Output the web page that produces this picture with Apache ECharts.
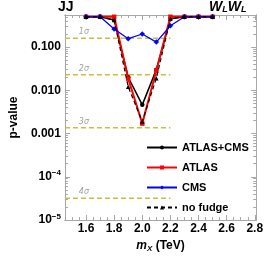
<!DOCTYPE html>
<html><head><meta charset="utf-8">
<script src="https://cdn.jsdelivr.net/npm/echarts@6/dist/echarts.min.js"></script>
<style>html,body{margin:0;padding:0;background:#fff}#c{width:266px;height:258px}</style>
</head><body><div id="c"></div>
<script>
const masses = [1.6, 1.7, 1.8, 1.9, 2.0, 2.1, 2.2, 2.3, 2.4, 2.5];
const combined = [0.5, 0.5, 0.42, 0.020, 0.0046, 0.030, 0.45, 0.5, 0.5, 0.5];
const atlas = [0.5, 0.5, 0.5, 0.0186, 0.0017, 0.0286, 0.5, 0.5, 0.5, 0.5];
const cms = [0.5, 0.5, 0.26, 0.156, 0.20, 0.13, 0.31, 0.5, 0.5, 0.5];
const noFudge = [0.5, 0.5, 0.42, 0.012, 0.0019, 0.019, 0.45, 0.5, 0.5, 0.5];
const sigmaP = [0.1587, 0.02275, 0.00135, 3.17e-5];
const sigmaLabels = ['1σ', '2σ', '3σ', '4σ'];
const sigmaXRange = [1.45, 2.2];
const sigmaLabelX = 1.585;
const xTickLabels = [1.6, 1.8, 2.0, 2.2, 2.4, 2.6, 2.8];
const xMinorTicks = [1.45,1.5,1.55,1.65,1.7,1.75,1.85,1.9,1.95,2.05,2.1,2.15,2.25,2.3,2.35,2.45,2.5,2.55,2.65,2.7,2.75];
const yMajorTicks = [1e-5, 1e-4, 1e-3, 1e-2, 1e-1];
const yMinorTicks = [];
for (let e = -5; e <= -1; e++) for (let m = 2; m <= 9; m++) { const v = m * Math.pow(10, e); if (v < 0.55) yMinorTicks.push(v); }

const X_MIN = 1.45, X_MAX = 2.81, Y_MIN = 1e-5, Y_MAX = 0.55;
const frame = '#a8a8a8';
const grid = {left: 48, right: 8.5, top: 15, bottom: 33};

function pair(arr) { return masses.map((m, i) => [m, arr[i]]); }
function yFmt(v) {
  if (v >= 0.00099) return v.toFixed(3);
  const e = Math.round(Math.log10(v));
  return '{b|10}{s|' + String(e).replace('-', '−') + '}';
}

const xBase = {type: 'value', min: X_MIN, max: X_MAX, splitLine: {show: false},
  axisLine: {show: true, lineStyle: {color: frame}}};
const yBase = {type: 'log', min: Y_MIN, max: Y_MAX, logBase: 10, splitLine: {show: false},
  axisLine: {show: true, lineStyle: {color: frame}}};

const xAxes = [
  Object.assign({}, xBase, {position: 'bottom',
    name: '{i|m}{s|X} {n|(TeV)}', nameLocation: 'middle', nameGap: 19,
    nameTextStyle: {rich: {
      i: {fontSize: 12, fontWeight: 'bold', fontStyle: 'italic', fontFamily: 'Liberation Sans', color: '#000'},
      s: {fontSize: 8, fontWeight: 'bold', fontStyle: 'italic', fontFamily: 'Liberation Sans', color: '#000', verticalAlign: 'bottom', padding: [6, 0, 0, 0]},
      n: {fontSize: 12, fontWeight: 'bold', fontFamily: 'Liberation Sans', color: '#000'}}},
    axisLabel: {customValues: xTickLabels, margin: 3, color: '#000', fontSize: 12, fontWeight: 'bold', fontFamily: 'Liberation Sans', formatter: v => v.toFixed(1)},
    axisTick: {customValues: xTickLabels, inside: true, length: 5, lineStyle: {color: frame}}}),
  Object.assign({}, xBase, {position: 'bottom', axisLabel: {show: false},
    axisTick: {customValues: xMinorTicks, inside: true, length: 3, lineStyle: {color: frame}}}),
  Object.assign({}, xBase, {position: 'top', axisLabel: {show: false},
    axisTick: {customValues: xTickLabels, inside: true, length: 5, lineStyle: {color: frame}}}),
  Object.assign({}, xBase, {position: 'top', axisLabel: {show: false},
    axisTick: {customValues: xMinorTicks, inside: true, length: 3, lineStyle: {color: frame}}})
];
const yAxes = [
  Object.assign({}, yBase, {position: 'left',
    name: 'p-value', nameLocation: 'middle', nameGap: 35,
    nameTextStyle: {fontSize: 12, fontWeight: 'bold', fontFamily: 'Liberation Sans', color: '#000'},
    axisLabel: {customValues: yMajorTicks, margin: 4, color: '#000', fontSize: 12, fontWeight: 'bold', fontFamily: 'Liberation Sans', formatter: yFmt,
      rich: {b: {fontSize: 12, fontWeight: 'bold', fontFamily: 'Liberation Sans', color: '#000'},
             s: {fontSize: 8, fontWeight: 'bold', fontFamily: 'Liberation Sans', color: '#000', verticalAlign: 'top', padding: [0, 0, 7, 0]}}},
    axisTick: {customValues: yMajorTicks, inside: true, length: 5, lineStyle: {color: frame}}}),
  Object.assign({}, yBase, {position: 'left', axisLabel: {show: false},
    axisTick: {customValues: yMinorTicks, inside: true, length: 3, lineStyle: {color: frame}}}),
  Object.assign({}, yBase, {position: 'right', axisLabel: {show: false},
    axisTick: {customValues: yMajorTicks, inside: true, length: 5, lineStyle: {color: frame}}}),
  Object.assign({}, yBase, {position: 'right', axisLabel: {show: false},
    axisTick: {customValues: yMinorTicks, inside: true, length: 3, lineStyle: {color: frame}}})
];

const sigmaSeries = [];
sigmaP.forEach((p, i) => {
  sigmaSeries.push({type: 'line', name: 's' + i, silent: true, symbol: 'none', z: 1,
    data: [[sigmaXRange[0], p], [sigmaXRange[1], p]],
    lineStyle: {color: '#c4c23c', width: 1.5, type: [5, 3]}});
  sigmaSeries.push({type: 'scatter', name: 'sl' + i, silent: true, symbolSize: 0, z: 1,
    data: [[sigmaLabelX, p]],
    label: {show: true, position: 'top', distance: 2, formatter: sigmaLabels[i], color: '#888',
      fontSize: 8, fontStyle: 'italic', fontFamily: 'DejaVu Sans'}});
});

const option = {
  animation: false,
  backgroundColor: '#fff',
  grid: grid,
  xAxis: xAxes,
  yAxis: yAxes,
  legend: {orient: 'vertical', left: 146, top: 141, padding: 0, itemWidth: 30, itemHeight: 5, itemGap: 7,
    data: ['ATLAS+CMS', 'ATLAS', 'CMS', 'no fudge'],
    textStyle: {fontSize: 11, fontWeight: 'bold', fontFamily: 'Liberation Sans', color: '#000', lineHeight: 13}},
  graphic: [
    {type: 'text', left: 58, top: 0, style: {text: 'JJ', font: 'bold 14px "Liberation Sans"', fill: '#000'}},
    {type: 'text', left: 209, top: 0, style: {text: '{w|W}{l|L}{w|W}{l|L}',
      rich: {w: {font: 'bold italic 14px "Liberation Sans"', fill: '#000'},
             l: {font: 'bold italic 9px "Liberation Sans"', fill: '#000', verticalAlign: 'bottom', padding: [6, 0, 0, 0]}}}}
  ],
  series: sigmaSeries.concat([
    {type: 'line', name: 'ATLAS+CMS', data: pair(combined), z: 3,
      symbol: 'circle', symbolSize: 4.5, color: '#000', lineStyle: {color: '#000', width: 1.5}},
    {type: 'line', name: 'ATLAS', data: pair(atlas), z: 4,
      symbol: 'rect', symbolSize: 4.5, color: '#ff0000', lineStyle: {color: '#ff0000', width: 2}},
    {type: 'line', name: 'CMS', data: pair(cms), z: 5,
      symbol: 'diamond', symbolSize: 5.5, color: '#0000ff', lineStyle: {color: '#0000ff', width: 1.3}},
    {type: 'line', name: 'no fudge', data: pair(noFudge), z: 6,
      symbol: 'triangle', symbolSize: 4.5, color: '#000', lineStyle: {color: '#000', width: 1.2, type: [4, 3]}}
  ])
};
echarts.init(document.getElementById('c'), null, {renderer: 'canvas'}).setOption(option);
</script></body></html>
